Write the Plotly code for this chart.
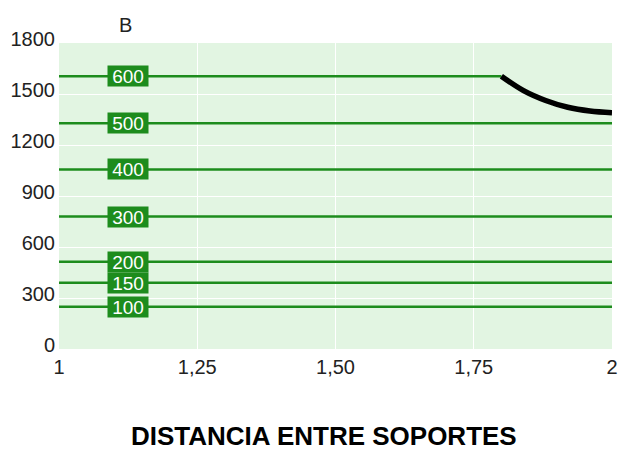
import plotly.graph_objects as go

# Data
series_labels = ["600", "500", "400", "300", "200", "150", "100"]
series_values = [1605, 1328, 1056, 779, 513, 390, 248]
series_xend = [1.8, 2.0, 2.0, 2.0, 2.0, 2.0, 2.0]
curve_x = [1.8, 1.84, 1.88, 1.92, 1.96, 2.0]
curve_y = [1605, 1520, 1462, 1422, 1400, 1390]
x_ticks = [1, 1.25, 1.5, 1.75, 2]
x_tick_labels = ["1", "1,25", "1,50", "1,75", "2"]
y_ticks = [0, 300, 600, 900, 1200, 1500, 1800]
label_x = 1.125

GREEN = "#1d8c1d"
FONT = "Liberation Sans, Arial, Helvetica, sans-serif"

fig = go.Figure()
for lab, v, xe in zip(series_labels, series_values, series_xend):
    fig.add_trace(go.Scatter(x=[1, xe], y=[v, v], mode="lines",
                             line=dict(color=GREEN, width=2.5),
                             hoverinfo="skip", showlegend=False))
fig.add_trace(go.Scatter(x=curve_x, y=curve_y, mode="lines",
                         line=dict(color="black", width=5.5, shape="spline"),
                         showlegend=False))

for lab, v in zip(series_labels, series_values):
    fig.add_annotation(x=label_x, y=v, text=lab, showarrow=False,
                       font=dict(color="white", size=19, family=FONT),
                       bgcolor=GREEN, borderpad=0, width=40, height=20,
                       xref="x", yref="y")

fig.add_annotation(x=1.12, y=1.0, xref="x", yref="paper", yanchor="bottom",
                   yshift=5, text="B", showarrow=False,
                   font=dict(size=20, color="#222", family=FONT))
fig.add_annotation(x=0.48, y=-0.284, xref="paper", yref="paper", yanchor="middle",
                   text="<b>DISTANCIA ENTRE SOPORTES</b>", showarrow=False,
                   font=dict(size=26, color="black", family=FONT))

fig.update_xaxes(range=[1, 2], tickvals=x_ticks, ticktext=x_tick_labels,
                 showgrid=True, gridcolor="white", gridwidth=1,
                 zeroline=False, showline=False, ticks="", automargin=False,
                 ticklabelstandoff=4,
                 tickfont=dict(size=20, color="#222", family=FONT))
fig.update_yaxes(range=[0, 1800], tickvals=y_ticks,
                 showgrid=True, gridcolor="white", gridwidth=1,
                 zeroline=False, showline=False, ticks="", automargin=False,
                 ticklabelshift=-4, ticklabelstandoff=3,
                 tickfont=dict(size=20, color="#222", family=FONT))

fig.update_layout(width=622, height=471,
                  margin=dict(l=59, r=10, t=43, b=122),
                  plot_bgcolor="#e2f5e2", paper_bgcolor="white",
                  font=dict(family=FONT))

fig.write_html("out.html", config={"displayModeBar": False},
               post_script="document.body.style.margin='0';document.body.style.overflow='hidden';")
